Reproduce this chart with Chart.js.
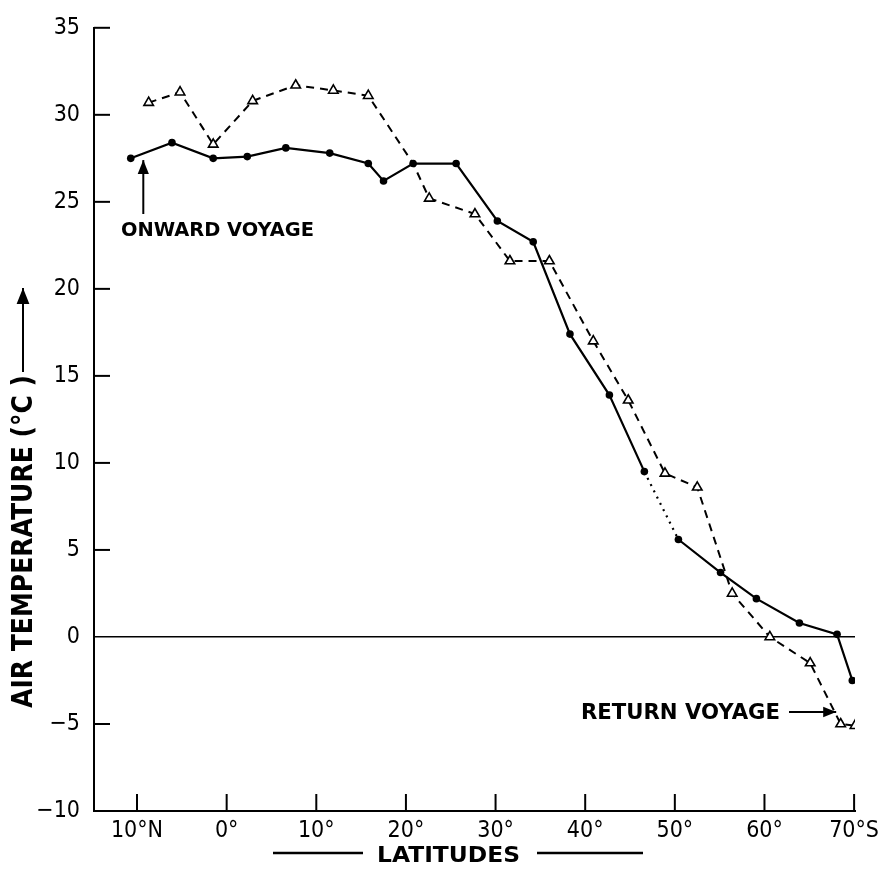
<!DOCTYPE html>
<html>
<head>
<meta charset="utf-8">
<script src="https://cdn.jsdelivr.net/npm/chart.js@4/dist/chart.umd.min.js"></script>
<style>
  html, body { margin: 0; padding: 0; background: #fff; }
  canvas { display: block; }
</style>
</head>
<body>
<canvas id="c" width="886" height="873"></canvas>
<script>
// ---- data ----
const xTickValues = [-10, 0, 10, 20, 30, 40, 50, 60, 70];
const xTickLabels = ['10°N', '0°', '10°', '20°', '30°', '40°', '50°', '60°', '70°S'];
const yTickValues = [-10, -5, 0, 5, 10, 15, 20, 25, 30, 35];

const onwardLat  = [-10.7, -6.1, -1.5, 2.3, 6.6, 11.5, 15.8, 17.5, 20.8, 25.6, 30.2, 34.2, 38.3, 42.7, 46.6, 50.4, 55.1, 59.1, 63.9, 68.1, 69.8];
const onwardTemp = [27.5, 28.4, 27.5, 27.6, 28.1, 27.8, 27.2, 26.2, 27.2, 27.2, 23.9, 22.7, 17.4, 13.9, 9.5, 5.6, 3.7, 2.2, 0.8, 0.15, -2.5];

const returnLat  = [-8.7, -5.2, -1.5, 2.9, 7.7, 11.9, 15.8, 20.8, 22.6, 27.7, 31.6, 36.0, 40.9, 44.8, 48.9, 52.5, 56.4, 60.6, 65.1, 68.5, 70.1];
const returnTemp = [30.7, 31.3, 28.3, 30.8, 31.7, 31.4, 31.1, 27.2, 25.2, 24.3, 21.6, 21.6, 17.0, 13.6, 9.4, 8.6, 2.5, 0.0, -1.5, -5.0, -5.1];

const yTitle = 'AIR TEMPERATURE (°C )';
const xTitle = 'LATITUDES';
const onwardLabel = 'ONWARD VOYAGE';
const returnLabel = 'RETURN VOYAGE';

// ---- helpers ----
function fitText(ctx, text, x, y, w, font) {
  ctx.save();
  ctx.font = font;
  ctx.textAlign = 'left';
  ctx.textBaseline = 'middle';
  const m = ctx.measureText(text).width;
  ctx.translate(x, y);
  ctx.scale(w / m, 1);
  ctx.fillStyle = '#000';
  ctx.fillText(text, 0, 0);
  ctx.restore();
}
function arrow(ctx, x1, y1, x2, y2, head) {
  ctx.save();
  ctx.strokeStyle = '#000';
  ctx.fillStyle = '#000';
  ctx.lineWidth = 2;
  ctx.beginPath();
  ctx.moveTo(x1, y1);
  ctx.lineTo(x2, y2);
  ctx.stroke();
  const a = Math.atan2(y2 - y1, x2 - x1);
  ctx.beginPath();
  ctx.moveTo(x2, y2);
  ctx.lineTo(x2 - head * Math.cos(a) + head * 0.4 * Math.sin(a), y2 - head * Math.sin(a) - head * 0.4 * Math.cos(a));
  ctx.lineTo(x2 - head * Math.cos(a) - head * 0.4 * Math.sin(a), y2 - head * Math.sin(a) + head * 0.4 * Math.cos(a));
  ctx.closePath();
  ctx.fill();
  ctx.restore();
}

const decorPlugin = {
  id: 'decor',
  afterDraw(chart) {
    const ctx = chart.ctx;
    const xs = chart.scales.x, ys = chart.scales.y;
    const area = chart.chartArea;
    ctx.save();
    ctx.strokeStyle = '#000';
    ctx.lineWidth = 2;
    // inner ticks on x axis
    xTickValues.forEach(v => {
      const px = xs.getPixelForValue(v);
      ctx.beginPath();
      ctx.moveTo(px, area.bottom);
      ctx.lineTo(px, area.bottom - 17);
      ctx.stroke();
    });
    // inner ticks on y axis
    yTickValues.forEach(v => {
      if (v === -10 || v === 0) return;
      const py = ys.getPixelForValue(v);
      ctx.beginPath();
      ctx.moveTo(area.left, py);
      ctx.lineTo(area.left + 16, py);
      ctx.stroke();
    });
    ctx.restore();

    // y-axis title (rotated) with arrow
    ctx.save();
    ctx.translate(25, 708);
    ctx.rotate(-Math.PI / 2);
    fitText(ctx, yTitle, 0, 0, 333, 'bold 28px "DejaVu Sans"');
    ctx.restore();
    arrow(ctx, 23, 372, 23, 288, 16);

    // x-axis title with lines
    fitText(ctx, xTitle, 377, 856, 143, 'bold 22px "DejaVu Sans"');
    ctx.save();
    ctx.strokeStyle = '#000';
    ctx.lineWidth = 2.5;
    ctx.beginPath();
    ctx.moveTo(273, 853); ctx.lineTo(363, 853);
    ctx.moveTo(537, 853); ctx.lineTo(643, 853);
    ctx.stroke();
    ctx.restore();

    // annotations
    const ox = xs.getPixelForValue(-9.3);
    arrow(ctx, ox, 214, ox, ys.getPixelForValue(27.4), 14);
    fitText(ctx, onwardLabel, 121, 231, 193, 'bold 20px "DejaVu Sans"');

    fitText(ctx, returnLabel, 581, 713, 199, 'bold 22px "DejaVu Sans"');
    arrow(ctx, 789, 712, xs.getPixelForValue(68.0), 712, 13);
  }
};

const tickFont = { family: '"DejaVu Sans Condensed", "Liberation Sans Narrow", "DejaVu Sans", sans-serif', size: 23 };

const chart = new Chart(document.getElementById('c'), {
  type: 'line',
  data: {
    datasets: [
      {
        label: 'Onward voyage',
        data: onwardLat.map((x, i) => ({ x, y: onwardTemp[i] })),
        borderColor: '#000',
        borderWidth: 2.2,
        backgroundColor: '#000',
        pointRadius: 3.8,
        pointBackgroundColor: '#000',
        pointBorderWidth: 0,
        tension: 0,
        segment: {
          borderDash: c => (c.p0DataIndex === 14 ? [2, 5] : undefined)
        }
      },
      {
        label: 'Return voyage',
        data: returnLat.map((x, i) => ({ x, y: returnTemp[i] })),
        borderColor: '#000',
        borderWidth: 2,
        borderDash: [8, 6],
        pointStyle: 'triangle',
        pointRadius: returnLat.map((x, i) => (i === 7 ? 0 : 5.5)),
        pointBackgroundColor: '#fff',
        pointBorderColor: '#000',
        pointBorderWidth: 1.6,
        tension: 0
      }
    ]
  },
  options: {
    responsive: false,
    animation: false,
    devicePixelRatio: 1,
    layout: { padding: { top: 22, right: 31, bottom: 0, left: 0 } },
    plugins: {
      legend: { display: false },
      tooltip: { enabled: false },
      title: { display: false }
    },
    scales: {
      x: {
        type: 'linear',
        min: -14.8,
        max: 70.1,
        afterFit: s => { s.height = 62; },
        afterBuildTicks: s => { s.ticks = xTickValues.map(v => ({ value: v })); },
        ticks: {
          color: '#000',
          padding: 6,
          font: tickFont,
          maxRotation: 0,
          autoSkip: false,
          callback: v => xTickLabels[xTickValues.indexOf(v)]
        },
        grid: { color: 'rgba(0,0,0,0)', drawTicks: false },
        border: { display: true, color: '#000', width: 2 }
      },
      y: {
        min: -10,
        max: 35,
        afterFit: s => { s.width = 94; },
        afterBuildTicks: s => { s.ticks = yTickValues.map(v => ({ value: v })); },
        ticks: {
          color: '#000',
          padding: 14,
          font: tickFont,
          callback: v => (v < 0 ? '−' + Math.abs(v) : String(v))
        },
        grid: {
          color: c => (c.tick && c.tick.value === 0 ? '#000' : 'rgba(0,0,0,0)'),
          lineWidth: 1.6,
          drawTicks: false
        },
        border: { display: true, color: '#000', width: 2 }
      }
    }
  },
  plugins: [decorPlugin]
});
</script>
</body>
</html>
